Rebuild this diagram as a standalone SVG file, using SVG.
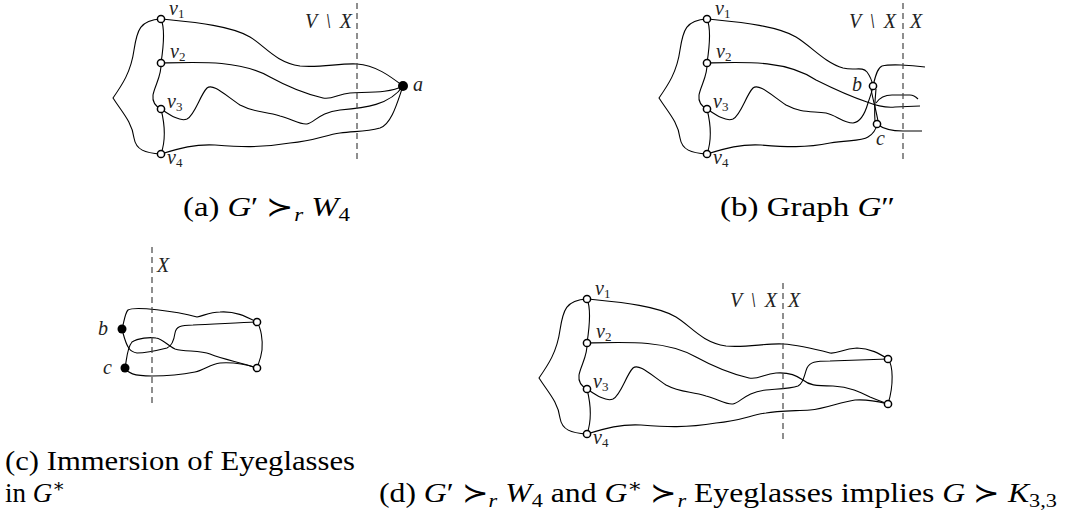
<svg xmlns="http://www.w3.org/2000/svg" width="1065" height="510" viewBox="0 0 1065 510">
<style>
.e{fill:none;stroke:#000;stroke-width:1.1}
.d{fill:none;stroke:#444;stroke-width:1.2;stroke-dasharray:6 4}
.o{fill:#fff;stroke:#000;stroke-width:1.5}
.f{fill:#000}
.l{font-family:"Liberation Serif","Times New Roman","DejaVu Serif",serif;font-style:italic;font-size:20px;fill:#222}
.s{font-size:13px;font-style:normal}
.c{font-family:"Liberation Serif","Times New Roman","DejaVu Serif",serif;font-size:27px;fill:#000}
.i{font-style:italic}
</style>
<defs>
<g id="left">
<path class="e" d="M161,19 C140,20 137,30 134,50 C131,72 122,85 113,98 C122,112 132,122 134,138 C136,150 145,153 161,154"/>
<path class="e" d="M161,19 C165,28 163,50 161,63"/>
<path class="e" d="M161,63 C162,75 155,85 153,95 C152,103 157,107 161,109"/>
<path class="e" d="M161,109 C165,125 166,140 161,154"/>
</g>
<g id="vlab">
<text class="l" x="169" y="15">v<tspan class="s" dy="3">1</tspan></text>
<text class="l" x="170" y="58">v<tspan class="s" dy="3">2</tspan></text>
<text class="l" x="167" y="108">v<tspan class="s" dy="3">3</tspan></text>
<text class="l" x="167" y="164">v<tspan class="s" dy="3">4</tspan></text>
</g>
</defs>

<!-- Panel (a) -->
<g id="connectors-a">
<use href="#left"/>
<path class="e" d="M161,19 C190,22 230,25 250,37 C265,46 275,62 300,66 C320,68 340,63 357,64 C375,65 390,76 403,86"/>
<path class="e" d="M161,63 C200,62 240,60 270,77 C290,88 310,95 323,98 C332,100 338,94 350,93 C370,92 390,93 403,86"/>
<path class="e" d="M161,109 C170,115 180,122 187,119 C195,115 200,95 207,88 C213,83 225,95 240,105 C255,113 265,111 280,116 C292,119 300,125 307,124 C315,122 320,112 340,110 C365,108 390,105 403,86"/>
<path class="e" d="M161,154 C180,148 195,144 215,145 C240,147 260,148 290,143 C315,141 325,135 340,133 C355,131 365,132 380,128 C392,124 398,100 403,86"/>
<path class="d" d="M357,3 V162"/>
</g>
<g id="a-v1"><circle class="o" cx="161" cy="19" r="3.6"/></g>
<g id="a-v2"><circle class="o" cx="161" cy="63" r="3.6"/></g>
<g id="a-v3"><circle class="o" cx="161" cy="109" r="3.6"/></g>
<g id="a-v4"><circle class="o" cx="161" cy="154" r="3.6"/></g>
<g id="a-a"><circle class="f" cx="403" cy="86" r="5"/><text class="l" x="413" y="91">a</text></g>
<g id="a-labels"><use href="#vlab"/><text class="l" x="305" y="28" textLength="47">V \ X</text></g>
<text class="c" x="183" y="216" textLength="167" lengthAdjust="spacingAndGlyphs">(a) <tspan class="i">G</tspan>′ ≻<tspan class="i" font-size="19" dy="5">r</tspan><tspan class="i" dy="-5"> W</tspan><tspan font-size="19" dy="5">4</tspan></text>

<!-- Panel (b) -->
<g id="connectors-b">
<use href="#left" transform="translate(546,0)"/>
<path class="e" d="M707,19 C736,22 776,25 796,37 C811,46 825,63 843,68 C855,71 862,66 867,72 C870,76 872,81 873,86"/>
<path class="e" d="M873,86 C875,78 877,68 882,66 C890,64 910,65 925,67"/>
<path class="e" d="M707,63 C746,62 786,60 816,80 C836,90 855,98 867,102 C877,106 885,108 895,107 L920,106"/>
<path class="e" d="M707,109 C716,115 726,122 733,119 C741,115 746,95 753,88 C759,83 771,95 786,105 C801,113 811,111 826,113 C836,115 843,123 853,123 C862,122 866,110 868,103 C870,97 872,92 873,86"/>
<path class="e" d="M707,154 C726,148 741,144 761,145 C786,147 806,148 830,143 C850,140 862,141 868,137 C873,134 876,130 877,124"/>
<path class="e" d="M877,124 C882,128 890,131 903,131 L922,131"/>
<path class="e" d="M871,89 C873,100 876,110 878,121"/>
<path class="e" d="M876,89 C875,100 874,110 875,121"/>
<path class="e" d="M876,103 C880,97 886,95 892,95 L910,95 C914,95 916,97 918,99"/>
<path class="d" d="M903,3 V162"/>
</g>
<g id="b-v1"><circle class="o" cx="707" cy="19" r="3.6"/></g>
<g id="b-v2"><circle class="o" cx="707" cy="63" r="3.6"/></g>
<g id="b-v3"><circle class="o" cx="707" cy="109" r="3.6"/></g>
<g id="b-v4"><circle class="o" cx="707" cy="154" r="3.6"/></g>
<g id="b-b"><circle class="o" cx="873" cy="86" r="3.6"/><text class="l" x="852" y="91">b</text></g>
<g id="b-c"><circle class="o" cx="877" cy="124" r="3.6"/><text class="l" x="876" y="145">c</text></g>
<g id="b-labels"><use href="#vlab" transform="translate(546,0)"/><text class="l" x="849" y="28" textLength="47">V \ X</text><text class="l" x="910" y="28">X</text></g>
<text class="c" x="720" y="216" textLength="175" lengthAdjust="spacingAndGlyphs">(b) Graph <tspan class="i">G</tspan>″</text>

<!-- Panel (c) -->
<g id="connectors-c">
<path class="e" d="M122,329 C124,322 125,313 128,310 C135,306 175,311 197,317 C203,316 210,312 220,312 C235,311 245,316 257,322"/>
<path class="e" d="M257,322 C240,323 210,324 193,325 C180,325 176,327 175,333 C174,340 172,346 167,348 C155,351 145,353 137,353 C130,352 127,348 123,333"/>
<path class="e" d="M125,368 C127,358 127,348 132,342 C138,338 150,337 156,338 C163,339 168,346 175,349 C185,352 200,350 210,354 C225,360 240,362 257,368"/>
<path class="e" d="M125,368 C128,373 133,376 152,376 C170,376 185,374 195,372 C205,370 210,364 220,363 C235,362 245,364 257,368"/>
<path class="e" d="M257,322 C261,328 263,340 262,350 C261,358 259,362 257,368"/>
<path class="d" d="M152,247 V405"/>
</g>
<g id="c-b"><circle class="f" cx="122" cy="329" r="4.5"/><text class="l" x="98" y="335">b</text></g>
<g id="c-c"><circle class="f" cx="125" cy="368" r="4.5"/><text class="l" x="103" y="374">c</text></g>
<g id="c-t"><circle class="o" cx="257" cy="322" r="3.6"/></g>
<g id="c-u"><circle class="o" cx="257" cy="368" r="3.6"/></g>
<text class="l" x="157" y="272">X</text>
<text class="c" x="5" y="470" textLength="350" lengthAdjust="spacingAndGlyphs">(c) Immersion of Eyeglasses</text>
<text class="c" x="5" y="502">in <tspan class="i">G</tspan><tspan font-size="19" dy="-10">∗</tspan></text>

<!-- Panel (d) -->
<g id="connectors-d">
<use href="#left" transform="translate(426,280)"/>
<path class="e" d="M587,299 C616,302 656,305 676,317 C691,326 701,342 726,346 C746,348 766,343 783,344 C800,345 815,349 830,353 C838,354 842,349 857,348 C870,348 880,354 888,359"/>
<path class="e" d="M587,343 C626,342 666,340 696,357 C716,368 736,375 749,378 C758,380 764,374 776,373 C790,372 797,376 803,380 C809,385 815,386 833,386 C850,387 860,392 870,397 C877,400 883,402 888,404"/>
<path class="e" d="M587,389 C596,395 606,402 613,399 C621,395 626,375 633,368 C639,363 651,375 666,385 C681,393 691,391 706,396 C718,399 726,405 733,404 C741,402 746,392 766,390 C775,389 790,389 798,386 C804,383 804,375 807,368 C810,362 815,361 830,361 L888,359"/>
<path class="e" d="M587,434 C606,428 621,424 641,425 C666,427 686,428 716,423 C741,421 751,415 766,413 C776,411 790,411 810,410 C825,409 840,402 855,400 C870,399 880,402 888,404"/>
<path class="e" d="M888,359 C893,365 894,385 888,404"/>
<path class="d" d="M783,283 V442"/>
</g>
<g id="d-v1"><circle class="o" cx="587" cy="299" r="3.6"/></g>
<g id="d-v2"><circle class="o" cx="587" cy="343" r="3.6"/></g>
<g id="d-v3"><circle class="o" cx="587" cy="389" r="3.6"/></g>
<g id="d-v4"><circle class="o" cx="587" cy="434" r="3.6"/></g>
<g id="d-t"><circle class="o" cx="888" cy="359" r="3.6"/></g>
<g id="d-u"><circle class="o" cx="888" cy="404" r="3.6"/></g>
<g id="d-labels"><use href="#vlab" transform="translate(426,280)"/><text class="l" x="730" y="307" textLength="47">V \ X</text><text class="l" x="788" y="307">X</text></g>
<text class="c" x="379" y="502" textLength="678" lengthAdjust="spacingAndGlyphs">(d) <tspan class="i">G</tspan>′ ≻<tspan class="i" font-size="19" dy="5">r</tspan><tspan class="i" dy="-5"> W</tspan><tspan font-size="19" dy="5">4</tspan><tspan dy="-5"> and </tspan><tspan class="i">G</tspan><tspan font-size="19" dy="-10">∗</tspan><tspan dy="10"> ≻</tspan><tspan class="i" font-size="19" dy="5">r</tspan><tspan dy="-5"> Eyeglasses implies </tspan><tspan class="i">G</tspan> ≻ <tspan class="i">K</tspan><tspan font-size="19" dy="5">3,3</tspan></text>
</svg>
